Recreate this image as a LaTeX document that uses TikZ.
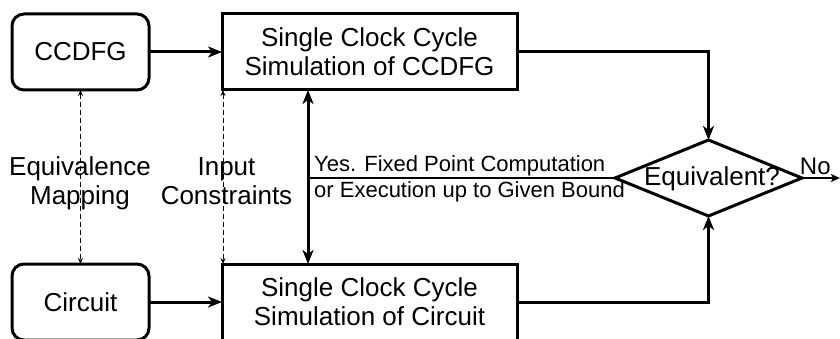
\documentclass[tikz,border=0pt]{standalone}
\usepackage{fontspec}
\setmainfont{Liberation Sans}
\usetikzlibrary{arrows.meta,shapes.geometric}
\begin{document}
\begin{tikzpicture}[x=1pt,y=-1pt,
  txt/.style={font=\fontsize{26pt}{29pt}\selectfont},
  smalltxt/.style={font=\fontsize{22pt}{26pt}\selectfont},
  rbox/.style={draw,line width=3pt,rounded corners=12pt,minimum width=137pt,minimum height=76pt,inner sep=0pt,outer sep=0pt,txt,align=center},
  sbox/.style={draw,line width=3pt,minimum width=295pt,minimum height=76pt,inner sep=0pt,outer sep=0pt,txt,align=center},
  conn/.style={line width=3pt,-{Stealth[length=14pt,width=11pt,inset=4pt]}},
  dconn/.style={line width=3pt,{Stealth[length=14pt,width=11pt,inset=4pt]}-{Stealth[length=14pt,width=11pt,inset=4pt]}},
  dashconn/.style={line width=1pt,dash pattern=on 5pt off 3pt,{Stealth[length=6pt,width=5pt]}-{Stealth[length=6pt,width=5pt]}},
  thinconn/.style={line width=2pt,-{Stealth[length=9pt,width=8pt,inset=2pt]}}
]
\useasboundingbox (0,0) rectangle (840,339);
\node[rbox] (ccdfg) at (80.5,52) {CCDFG};
\node[rbox] (circuit) at (80.5,302) {Circuit};
\node[sbox] (simA) at (369.5,52) {Single Clock Cycle\\Simulation of CCDFG};
\node[sbox] (simB) at (369.5,302) {Single Clock Cycle\\Simulation of Circuit};
\node[diamond,draw,line width=3pt,minimum width=187pt,minimum height=76pt,inner sep=0pt,outer sep=0pt] (eq) at (708.5,178) {};
\node[txt,inner sep=0pt] (eqtext) at (712,179) {Equivalent?};
\coordinate (vx) at (308,178);
\coordinate (noend) at (840,178);
\coordinate (dashx) at (223,178);

\draw[conn] (ccdfg.east) -- (simA.west);
\draw[conn] (circuit.east) -- (simB.west);
\draw[conn] (simA.east) -| (eq.north);
\draw[conn] (simB.east) -| (eq.south);
\draw[thinconn] (eq.east) -- (noend) node[pos=0.35,above=2pt,font=\fontsize{24pt}{28pt}\selectfont,inner sep=0pt] (nolabel) {No};
\draw[dconn] (vx |- simA.south) -- (vx |- simB.north);
\draw[line width=2pt] (vx) -- (eq.west);
\node[smalltxt,anchor=base west,inner sep=0pt] (yes1) at (314,172) {Yes. Fixed Point Computation};
\node[smalltxt,anchor=base west,inner sep=0pt] (yes2) at (314,197) {or Execution up to Given Bound};
\draw[dashconn] (ccdfg.south) -- (circuit.north);
\draw[dashconn] (dashx |- simA.south) -- (dashx |- simB.north);
\node[txt,align=center,inner sep=0pt] (eqmap) at (80,183) {Equivalence\\Mapping};
\node[txt,align=center,inner sep=0pt] (incon) at (226.5,181) {Input\\Constraints};
\end{tikzpicture}
\end{document}
